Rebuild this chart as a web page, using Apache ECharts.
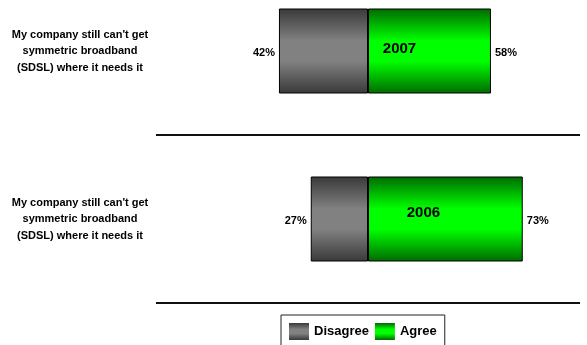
<!DOCTYPE html>
<html>
<head>
<meta charset="utf-8">
<script src="https://cdn.jsdelivr.net/npm/echarts@6/dist/echarts.min.js"></script>
<style>
  html, body { margin: 0; padding: 0; background: #fff; }
  #chart { width: 587px; height: 345px; }
</style>
</head>
<body>
<div id="chart"></div>
<script>
// Survey years, top to bottom
const years = ['2007', '2006'];
// Statement shown beside each year's bar
const statements = [
  "My company still can't get\nsymmetric broadband\n(SDSL) where it needs it",
  "My company still can't get\nsymmetric broadband\n(SDSL) where it needs it"
];
// Share of respondents (%)
const disagree = [42, 27];
const agree = [58, 73];

// Placement of the year tag inside each green bar (px)
const yearTagOffsets = [[-30, -2], [-22, -6]];

const FONT = 'Arial, "Liberation Sans", sans-serif';

function vGradient(edge, mid) {
  return new echarts.graphic.LinearGradient(0, 0, 0, 1, [
    { offset: 0, color: edge },
    { offset: 0.38, color: mid },
    { offset: 0.62, color: mid },
    { offset: 1, color: edge }
  ]);
}

const grayFill = vGradient('#393939', '#818181');
const greenFill = vGradient('#006a00', '#00ff00');

const chart = echarts.init(document.getElementById('chart'), null, { renderer: 'canvas' });

chart.setOption({
  animation: false,
  backgroundColor: '#fff',
  textStyle: { fontFamily: FONT },
  // the first band starts above the canvas so the top bar sits near the edge
  grid: { left: 156, right: 7, top: -33, height: 336, containLabel: false, outerBoundsMode: 'none' },
  xAxis: {
    type: 'value',
    min: -100,
    max: 100,
    show: false
  },
  yAxis: {
    type: 'category',
    data: years,
    inverse: true,
    axisLine: { show: false },
    axisTick: { show: false },
    splitLine: { show: true, lineStyle: { color: '#111', width: 2 } },
    axisLabel: {
      formatter: (v, i) => statements[i],
      align: 'center',
      margin: 76,
      color: '#000',
      fontFamily: FONT,
      fontWeight: 'bold',
      fontSize: 11,
      lineHeight: 16.5
    }
  },
  legend: {
    data: ['Disagree', 'Agree'],
    left: 281,
    top: 315,
    padding: [8, 8, 8, 8],
    icon: 'rect',
    itemWidth: 20,
    itemHeight: 17,
    itemGap: 6,
    borderColor: '#222',
    borderWidth: 1,
    selectedMode: false,
    itemStyle: { borderWidth: 0 },
    textStyle: { color: '#000', fontFamily: FONT, fontWeight: 'bold', fontSize: 13 }
  },
  series: [
    {
      name: 'Disagree',
      type: 'bar',
      stack: 'share',
      barWidth: 85,
      data: disagree.map(v => -v),
      itemStyle: { color: grayFill, borderColor: '#000', borderWidth: 1 },
      label: {
        show: true,
        position: 'left',
        distance: 4,
        offset: [0, 2],
        formatter: p => Math.abs(p.value) + '%',
        color: '#000',
        fontFamily: FONT,
        fontWeight: 'bold',
        fontSize: 11
      }
    },
    {
      name: 'Agree',
      type: 'bar',
      stack: 'share',
      barWidth: 85,
      data: agree.map((v, i) => ({
        value: v,
        label: { offset: yearTagOffsets[i] }
      })),
      itemStyle: { color: greenFill, borderColor: '#000', borderWidth: 1 },
      label: {
        show: true,
        position: 'inside',
        formatter: p => years[p.dataIndex],
        color: '#000',
        fontFamily: FONT,
        fontWeight: 'bold',
        fontSize: 15
      }
    },
    {
      // zero-width cap on the stack that carries the agree percentage
      name: 'AgreeShare',
      type: 'bar',
      stack: 'share',
      barWidth: 85,
      silent: true,
      data: agree.map(() => 0),
      itemStyle: { color: 'rgba(0,0,0,0)', borderWidth: 0 },
      label: {
        show: true,
        position: 'right',
        distance: 4,
        offset: [0, 2],
        formatter: p => agree[p.dataIndex] + '%',
        color: '#000',
        fontFamily: FONT,
        fontWeight: 'bold',
        fontSize: 11
      }
    }
  ]
});
</script>
</body>
</html>
